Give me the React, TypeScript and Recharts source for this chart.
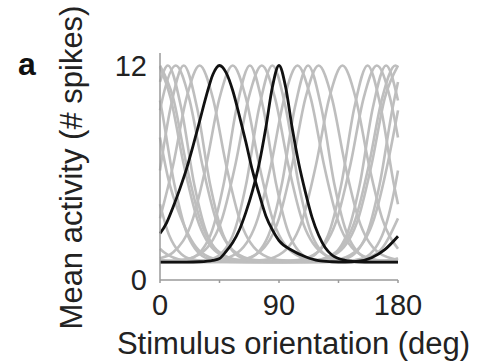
import { Line, LineChart, XAxis, YAxis } from "recharts";

type Pt = [number, number];

// orientation ticks (deg) and activity ticks (# spikes)
const xTicks = [0, 45, 90, 135, 180];
const yTicks = [0, 12];

// background population: tuning curves, [deg, spikes]
const gray01: Pt[] = [[0, 12], [10, 10.18], [20, 6.45], [30, 3.45], [45, 1.55], [60, 1.12], [90, 1.03], [120, 1.12], [135, 1.55], [150, 3.45], [160, 6.45], [170, 10.18], [180, 12]];
const gray02: Pt[] = [[0, 11.08], [6, 12], [16, 9.65], [26, 5.31], [36, 2.49], [51, 1.2], [66, 1.03], [96, 1.0], [126, 1.03], [141, 1.2], [156, 2.49], [166, 5.31], [176, 9.65], [180, 11.08]];
const gray03: Pt[] = [[0, 9.49], [2, 10.18], [12, 12], [22, 10.18], [32, 6.45], [42, 3.45], [57, 1.55], [72, 1.12], [102, 1.03], [132, 1.12], [147, 1.55], [162, 3.45], [172, 6.45], [180, 9.49]];
const gray04: Pt[] = [[0, 6.13], [8, 9.65], [18, 12], [28, 9.65], [38, 5.31], [48, 2.49], [63, 1.2], [78, 1.03], [108, 1.0], [138, 1.03], [153, 1.2], [168, 2.49], [178, 5.31], [180, 6.13]];
const gray05: Pt[] = [[0, 3.45], [10, 6.45], [20, 10.18], [30, 12], [40, 10.18], [50, 6.45], [60, 3.45], [75, 1.55], [90, 1.12], [120, 1.03], [150, 1.12], [165, 1.55], [180, 3.45]];
const gray06: Pt[] = [[0, 1.22], [10, 1.55], [25, 3.45], [35, 6.45], [45, 10.18], [55, 12], [65, 10.18], [75, 6.45], [85, 3.45], [100, 1.55], [115, 1.12], [145, 1.03], [175, 1.12], [180, 1.22]];
const gray07: Pt[] = [[0, 1.01], [8, 1.03], [23, 1.2], [38, 2.49], [48, 5.31], [58, 9.65], [68, 12], [78, 9.65], [88, 5.31], [98, 2.49], [113, 1.2], [128, 1.03], [158, 1.0], [180, 1.01]];
const gray08: Pt[] = [[0, 1.04], [17, 1.12], [32, 1.55], [47, 3.45], [57, 6.45], [67, 10.18], [77, 12], [87, 10.18], [97, 6.45], [107, 3.45], [122, 1.55], [137, 1.12], [167, 1.03], [180, 1.04]];
const gray09: Pt[] = [[0, 1.0], [25, 1.03], [40, 1.2], [55, 2.49], [65, 5.31], [75, 9.65], [85, 12], [95, 9.65], [105, 5.31], [115, 2.49], [130, 1.2], [145, 1.03], [175, 1.0], [180, 1.0]];
const gray10: Pt[] = [[0, 1.04], [14, 1.03], [44, 1.12], [59, 1.55], [74, 3.45], [84, 6.45], [94, 10.18], [104, 12], [114, 10.18], [124, 6.45], [134, 3.45], [149, 1.55], [164, 1.12], [180, 1.04]];
const gray11: Pt[] = [[0, 1.01], [22, 1.0], [52, 1.03], [67, 1.2], [82, 2.49], [92, 5.31], [102, 9.65], [112, 12], [122, 9.65], [132, 5.31], [142, 2.49], [157, 1.2], [172, 1.03], [180, 1.01]];
const gray12: Pt[] = [[0, 1.12], [30, 1.03], [60, 1.12], [75, 1.55], [90, 3.45], [100, 6.45], [110, 10.18], [120, 12], [130, 10.18], [140, 6.45], [150, 3.45], [165, 1.55], [180, 1.12]];
const gray13: Pt[] = [[0, 1.75], [3, 1.55], [18, 1.12], [48, 1.03], [78, 1.12], [93, 1.55], [108, 3.45], [118, 6.45], [128, 10.18], [138, 12], [148, 10.18], [158, 6.45], [168, 3.45], [180, 1.75]];
const gray14: Pt[] = [[0, 4.24], [7, 2.49], [22, 1.2], [37, 1.03], [67, 1.0], [97, 1.03], [112, 1.2], [127, 2.49], [137, 5.31], [147, 9.65], [157, 12], [167, 9.65], [177, 5.31], [180, 4.24]];
const gray15: Pt[] = [[0, 7.97], [6, 5.74], [16, 3.45], [31, 1.55], [46, 1.12], [76, 1.03], [104, 1.12], [119, 1.55], [134, 3.45], [144, 6.45], [154, 10.18], [164, 12], [174, 10.18], [180, 7.97]];
const gray16: Pt[] = [[0, 10.04], [1, 9.65], [11, 5.31], [21, 2.49], [36, 1.2], [51, 1.03], [81, 1.0], [111, 1.03], [126, 1.2], [141, 2.49], [151, 5.31], [161, 9.65], [171, 12], [180, 10.04]];
const gray17: Pt[] = [[0, 11.92], [8, 10.18], [18, 6.45], [28, 3.45], [43, 1.55], [58, 1.12], [88, 1.03], [118, 1.12], [133, 1.55], [148, 3.45], [158, 6.45], [168, 10.18], [178, 12], [180, 11.92]];

// the two highlighted neurons
const black45: Pt[] = [[0, 2.6], [5, 3.2], [10, 4.1], [15, 5.1], [20, 6.2], [25, 7.5], [30, 8.9], [35, 10.3], [40, 11.5], [45, 12], [50, 11.6], [55, 10.6], [60, 9.2], [65, 7.7], [70, 6.1], [75, 4.8], [80, 3.6], [85, 2.8], [90, 2.2], [100, 1.65], [110, 1.3], [120, 1.08], [130, 1.02], [140, 1.0], [150, 1.05], [160, 1.25], [170, 1.7], [180, 2.45]];
const black90: Pt[] = [[0, 1.0], [20, 1.0], [30, 1.02], [40, 1.1], [45, 1.2], [50, 1.6], [55, 2.1], [60, 2.8], [65, 3.8], [70, 5.0], [75, 6.5], [80, 8.5], [85, 10.8], [90, 12], [95, 10.8], [100, 8.5], [105, 6.5], [110, 4.9], [115, 3.5], [120, 2.5], [125, 1.8], [130, 1.4], [140, 1.1], [150, 1.02], [160, 1.0], [180, 1.0]];

const grayCurves = [gray01, gray02, gray03, gray04, gray05, gray06, gray07, gray08, gray09, gray10, gray11, gray12, gray13, gray14, gray15, gray16, gray17];
const blackCurves = [black45, black90];

const FONT = "'Liberation Sans', Arial, Helvetica, sans-serif";
const toRows = (pts: Pt[]) => pts.map(([x, y]) => ({ x, y }));

export default function App() {
  return (
    <div style={{ position: "absolute", left: 0, top: 0, width: 480, height: 361, background: "#fff", fontFamily: FONT }}>
      <LineChart width={480} height={361} margin={{ top: 53, right: 82, bottom: 41, left: 100 }}>
        <XAxis
          type="number"
          dataKey="x"
          domain={[0, 180]}
          ticks={xTicks}
          tickFormatter={(v) => (v % 90 === 0 ? String(v) : "")}
          height={40}
          stroke="#9a9a9a"
          strokeWidth={1.5}
          tickSize={3}
          tickMargin={11}
          tick={{ fontSize: 29, fill: "#222", fontFamily: FONT }}
        />
        <YAxis
          type="number"
          domain={[0, 12.7]}
          ticks={yTicks}
          width={60}
          stroke="#9a9a9a"
          strokeWidth={1.5}
          tickLine={false}
          tickSize={0}
          tickMargin={13}
          tick={{ fontSize: 29, fill: "#222", fontFamily: FONT }}
        />
        {grayCurves.map((pts, i) => (
          <Line
            key={"g" + i}
            data={toRows(pts)}
            dataKey="y"
            type="monotone"
            stroke="#bebebe"
            strokeWidth={2.6}
            dot={false}
            activeDot={false}
            isAnimationActive={false}
          />
        ))}
        {blackCurves.map((pts, i) => (
          <Line
            key={"b" + i}
            data={toRows(pts)}
            dataKey="y"
            type="monotone"
            stroke="#111"
            strokeWidth={2.8}
            dot={false}
            activeDot={false}
            isAnimationActive={false}
          />
        ))}
      </LineChart>
      <svg width={480} height={361} style={{ position: "absolute", left: 0, top: 0, pointerEvents: "none" }}>
        <text x={18} y={75} style={{ fontFamily: "Liberation Sans, Arial, sans-serif", fontWeight: 700, fontSize: 32 }} fill="#111">
          a
        </text>
        <text
          transform="translate(82,167.5) rotate(-90)"
          textAnchor="middle"
          fontSize={31}
          fill="#222"
          fontFamily={FONT}
        >
          Mean activity (# spikes)
        </text>
        <text x={293.5} y={354} textAnchor="middle" fontSize={31} fill="#222" fontFamily={FONT}>
          Stimulus orientation (deg)
        </text>
      </svg>
    </div>
  );
}
